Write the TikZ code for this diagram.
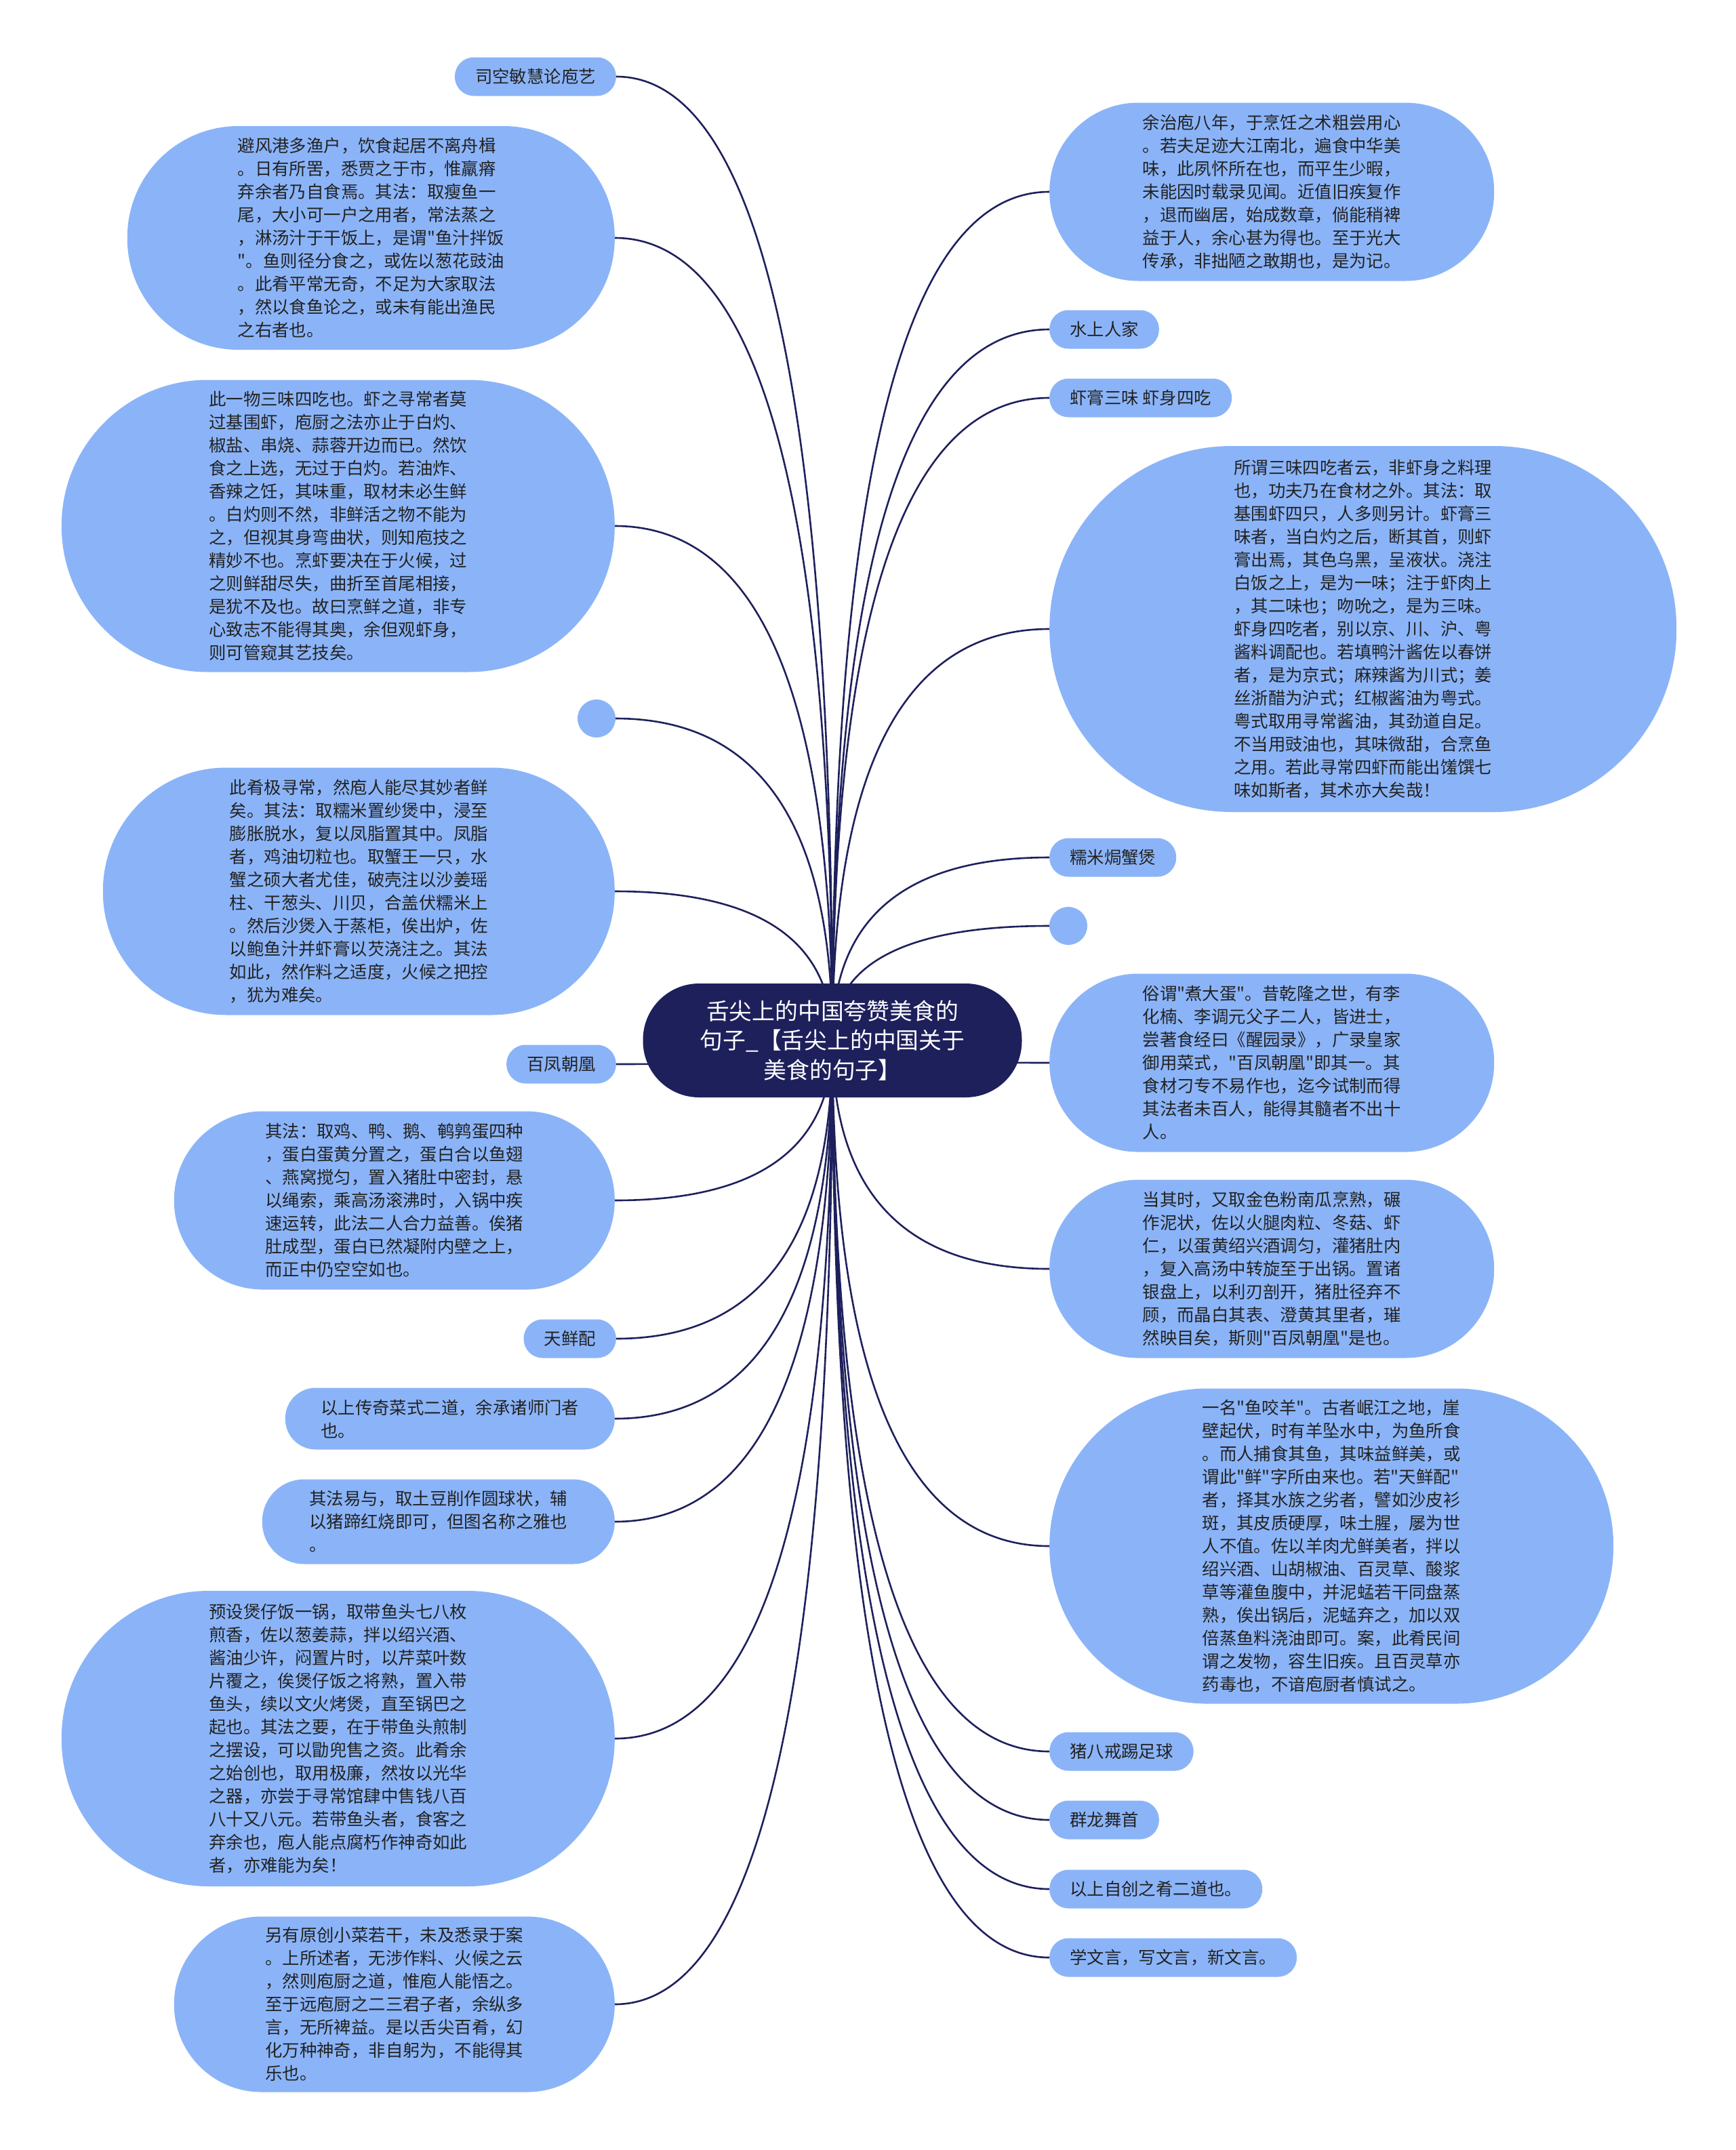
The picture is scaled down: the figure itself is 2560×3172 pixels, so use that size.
\documentclass[tikz,border=0pt]{standalone}
\usepackage{fontspec}
\setmainfont{Noto Sans CJK SC}[Ligatures=TeXOff]
\usetikzlibrary{backgrounds,calc}
\pgfdeclarelayer{lines}
\pgfsetlayers{background,lines,main}
\definecolor{bubfill}{RGB}{139,180,248}
\definecolor{navy}{RGB}{30,32,92}
\definecolor{txt}{RGB}{34,34,34}
\tikzset{
  bubble/.style={fill=bubfill, text=txt, font=\fontsize{25.4}{34}\selectfont, align=left, inner sep=0pt},
  pill/.style={fill=bubfill, text=txt, font=\fontsize{25.4}{34}\selectfont, inner xsep=30pt, inner ysep=0pt, minimum height=57pt, rounded corners=28pt},
  rootnode/.style={fill=navy, text=white, font=\fontsize{33.8}{43.5}\selectfont, align=center, inner sep=0pt, minimum width=559pt, minimum height=168pt, rounded corners=83pt},
  conn/.style={draw=navy, line width=2.6pt},
  dot/.style={circle, fill=bubfill, minimum size=56pt, inner sep=0pt},
}
% quadratic curve from root centre, control at the corner (root.x, child.y)
\newcommand\qconn[2]{\draw[conn] (root.center) .. controls ($(root.center)!0.6667!(root.center |- #1.#2)$) and ($(#1.#2)!0.6667!(root.center |- #1.#2)$) .. (#1.#2);}
\newcommand\lconn[1]{\qconn{#1}{east}}
\newcommand\rconn[1]{\qconn{#1}{west}}
\begin{document}
\begin{tikzpicture}[x=1pt,y=-1pt]
\begin{pgfonlayer}{background}
\fill[white] (0,0) rectangle (2560,3172);
\end{pgfonlayer}
\useasboundingbox (0,0) rectangle (2560,3172);

\node[rootnode] (root) at (1228,1535) {舌尖上的中国夸赞美食的\\句子\_【舌尖上的中国关于\\美食的句子】};

% left side
\node[pill, anchor=east] (l1) at (909,113) {司空敏慧论庖艺};
\node[bubble, anchor=east, minimum width=719pt, minimum height=330pt, rounded corners=164pt] (l2) at (907,351) {避风港多渔户，饮食起居不离舟楫\\。日有所罟，悉贾之于市，惟羸瘠\\弃余者乃自食焉。其法：取瘦鱼一\\尾，大小可一户之用者，常法蒸之\\，淋汤汁于干饭上，是谓"鱼汁拌饭\\"。鱼则径分食之，或佐以葱花豉油\\。此肴平常无奇，不足为大家取法\\，然以食鱼论之，或未有能出渔民\\之右者也。};
\node[bubble, anchor=east, minimum width=816pt, minimum height=431pt, rounded corners=215pt] (l3) at (907,776) {此一物三味四吃也。虾之寻常者莫\\过基围虾，庖厨之法亦止于白灼、\\椒盐、串烧、蒜蓉开边而已。然饮\\食之上选，无过于白灼。若油炸、\\香辣之饪，其味重，取材未必生鲜\\。白灼则不然，非鲜活之物不能为\\之，但视其身弯曲状，则知庖技之\\精妙不也。烹虾要决在于火候，过\\之则鲜甜尽失，曲折至首尾相接，\\是犹不及也。故曰烹鲜之道，非专\\心致志不能得其奥，余但观虾身，\\则可管窥其艺技矣。};
\node[dot] (l4) at (880,1060) {};
\node[bubble, anchor=east, minimum width=755pt, minimum height=365pt, rounded corners=182pt] (l5) at (907,1315) {此肴极寻常，然庖人能尽其妙者鲜\\矣。其法：取糯米置纱煲中，浸至\\膨胀脱水，复以凤脂置其中。凤脂\\者，鸡油切粒也。取蟹王一只，水\\蟹之硕大者尤佳，破壳注以沙姜瑶\\柱、干葱头、川贝，合盖伏糯米上\\。然后沙煲入于蒸柜，俟出炉，佐\\以鲍鱼汁并虾膏以芡浇注之。其法\\如此，然作料之适度，火候之把控\\，犹为难矣。};
\node[pill, anchor=east] (l6) at (909,1570) {百凤朝凰};
\node[bubble, anchor=east, minimum width=650pt, minimum height=263pt, rounded corners=131pt] (l7) at (907,1771) {其法：取鸡、鸭、鹅、鹌鹑蛋四种\\，蛋白蛋黄分置之，蛋白合以鱼翅\\、燕窝搅匀，置入猪肚中密封，悬\\以绳索，乘高汤滚沸时，入锅中疾\\速运转，此法二人合力益善。俟猪\\肚成型，蛋白已然凝附内壁之上，\\而正中仍空空如也。};
\node[pill, anchor=east] (l8) at (909,1975) {天鲜配};
\node[bubble, anchor=east, minimum width=486pt, minimum height=91pt, rounded corners=45pt] (l9) at (907,2093) {以上传奇菜式二道，余承诸师门者\\也。};
\node[bubble, anchor=east, minimum width=520pt, minimum height=125pt, rounded corners=62pt] (l10) at (907,2245) {其法易与，取土豆削作圆球状，辅\\以猪蹄红烧即可，但图名称之雅也\\。};
\node[bubble, anchor=east, minimum width=816pt, minimum height=436pt, rounded corners=217pt] (l11) at (907,2565) {预设煲仔饭一锅，取带鱼头七八枚\\煎香，佐以葱姜蒜，拌以绍兴酒、\\酱油少许，闷置片时，以芹菜叶数\\片覆之，俟煲仔饭之将熟，置入带\\鱼头，续以文火烤煲，直至锅巴之\\起也。其法之要，在于带鱼头煎制\\之摆设，可以勖兜售之资。此肴余\\之始创也，取用极廉，然妆以光华\\之器，亦尝于寻常馆肆中售钱八百\\八十又八元。若带鱼头者，食客之\\弃余也，庖人能点腐朽作神奇如此\\者，亦难能为矣！};
\node[bubble, anchor=east, minimum width=650pt, minimum height=259pt, rounded corners=129pt] (l12) at (907,2957) {另有原创小菜若干，未及悉录于案\\。上所述者，无涉作料、火候之云\\，然则庖厨之道，惟庖人能悟之。\\至于远庖厨之二三君子者，余纵多\\言，无所裨益。是以舌尖百肴，幻\\化万种神奇，非自躬为，不能得其\\乐也。};

% right side
\node[bubble, anchor=west, minimum width=656pt, minimum height=263pt, rounded corners=131pt] (r1) at (1548,283) {余治庖八年，于烹饪之术粗尝用心\\。若夫足迹大江南北，遍食中华美\\味，此夙怀所在也，而平生少暇，\\未能因时载录见闻。近值旧疾复作\\，退而幽居，始成数章，倘能稍裨\\益于人，余心甚为得也。至于光大\\传承，非拙陋之敢期也，是为记。};
\node[pill, anchor=west] (r2) at (1548,486) {水上人家};
\node[pill, anchor=west] (r3) at (1548,587) {虾膏三味 虾身四吃};
\node[bubble, anchor=west, minimum width=925pt, minimum height=540pt, rounded corners=269pt] (r4) at (1548,928) {所谓三味四吃者云，非虾身之料理\\也，功夫乃在食材之外。其法：取\\基围虾四只，人多则另计。虾膏三\\味者，当白灼之后，断其首，则虾\\膏出焉，其色乌黑，呈液状。浇注\\白饭之上，是为一味；注于虾肉上\\，其二味也；吻吮之，是为三味。\\虾身四吃者，别以京、川、沪、粤\\酱料调配也。若填鸭汁酱佐以春饼\\者，是为京式；麻辣酱为川式；姜\\丝浙醋为沪式；红椒酱油为粤式。\\粤式取用寻常酱油，其劲道自足。\\不当用豉油也，其味微甜，合烹鱼\\之用。若此寻常四虾而能出馐馔七\\味如斯者，其术亦大矣哉！};
\node[pill, anchor=west] (r5) at (1548,1265) {糯米焗蟹煲};
\node[dot] (r6) at (1576,1366) {};
\node[bubble, anchor=west, minimum width=656pt, minimum height=263pt, rounded corners=131pt] (r7) at (1548,1568) {俗谓"煮大蛋"。昔乾隆之世，有李\\化楠、李调元父子二人，皆进士，\\尝著食经曰《醒园录》，广录皇家\\御用菜式，"百凤朝凰"即其一。其\\食材刁专不易作也，迄今试制而得\\其法者未百人，能得其髓者不出十\\人。};
\node[bubble, anchor=west, minimum width=656pt, minimum height=263pt, rounded corners=131pt] (r8) at (1548,1872) {当其时，又取金色粉南瓜烹熟，碾\\作泥状，佐以火腿肉粒、冬菇、虾\\仁，以蛋黄绍兴酒调匀，灌猪肚内\\，复入高汤中转旋至于出锅。置诸\\银盘上，以利刃剖开，猪肚径弃不\\顾，而晶白其表、澄黄其里者，璀\\然映目矣，斯则"百凤朝凰"是也。};
\node[bubble, anchor=west, minimum width=832pt, minimum height=465pt, rounded corners=232pt] (r9) at (1548,2281) {一名"鱼咬羊"。古者岷江之地，崖\\壁起伏，时有羊坠水中，为鱼所食\\。而人捕食其鱼，其味益鲜美，或\\谓此"鲜"字所由来也。若"天鲜配"\\者，择其水族之劣者，譬如沙皮衫\\斑，其皮质硬厚，味土腥，屡为世\\人不值。佐以羊肉尤鲜美者，拌以\\绍兴酒、山胡椒油、百灵草、酸浆\\草等灌鱼腹中，并泥蜢若干同盘蒸\\熟，俟出锅后，泥蜢弃之，加以双\\倍蒸鱼料浇油即可。案，此肴民间\\谓之发物，容生旧疾。且百灵草亦\\药毒也，不谙庖厨者慎试之。};
\node[pill, anchor=west] (r10) at (1548,2584) {猪八戒踢足球};
\node[pill, anchor=west] (r11) at (1548,2685) {群龙舞首};
\node[pill, anchor=west] (r12) at (1548,2787) {以上自创之肴二道也。};
\node[pill, anchor=west] (r13) at (1548,2888) {学文言，写文言，新文言。};

\begin{pgfonlayer}{lines}
\lconn{l1}\lconn{l2}\lconn{l3}\lconn{l4}\lconn{l5}\lconn{l6}
\lconn{l7}\lconn{l8}\lconn{l9}\lconn{l10}\lconn{l11}\lconn{l12}
\rconn{r1}\rconn{r2}\rconn{r3}\rconn{r4}\rconn{r5}\rconn{r6}\rconn{r7}
\rconn{r8}\rconn{r9}\rconn{r10}\rconn{r11}\rconn{r12}\rconn{r13}
\end{pgfonlayer}
\end{tikzpicture}
\end{document}
